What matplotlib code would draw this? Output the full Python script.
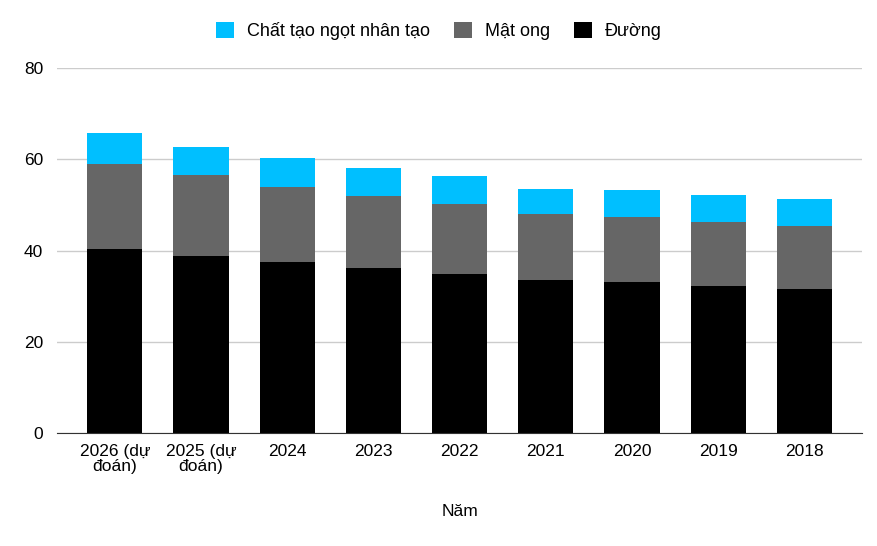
import matplotlib.pyplot as plt
import numpy as np

plt.rcParams['font.family'] = ['Liberation Sans', 'DejaVu Sans']

# data
years = ['2026 (dự\nđoán)', '2025 (dự\nđoán)', '2024', '2023', '2022', '2021', '2020', '2019', '2018']
sugar = [40.4, 38.9, 37.5, 36.2, 34.9, 33.6, 33.1, 32.3, 31.7]
honey = [18.5, 17.7, 16.5, 15.8, 15.4, 14.4, 14.3, 14.0, 13.8]
artificial = [6.8, 6.2, 6.2, 6.2, 6.0, 5.6, 5.9, 6.0, 5.8]

x = np.arange(len(years))
width = 0.64

fig = plt.figure(figsize=(8.78, 5.46), dpi=100)
ax = fig.add_axes([0.065, 0.2064, 0.917, 0.669])

b1 = ax.bar(x, sugar, width, color='#000000', label='Đường', zorder=3)
b2 = ax.bar(x, honey, width, bottom=sugar, color='#666666', label='Mật ong', zorder=3)
bottom2 = np.array(sugar) + np.array(honey)
b3 = ax.bar(x, artificial, width, bottom=bottom2, color='#00BFFF',
            label='Chất tạo ngọt nhân tạo', zorder=3)

ax.set_ylim(0, 80)
ax.set_yticks([0, 20, 40, 60, 80])
ax.set_xlim(-0.67, len(years) - 1 + 0.67)
ax.set_xticks(x)
ax.set_xticklabels(years, fontsize=12.5, linespacing=0.95)
ax.tick_params(axis='y', labelsize=12.5, length=0, pad=10)
ax.tick_params(axis='x', length=0, pad=8)
ax.yaxis.grid(True, color='#cccccc', linewidth=1, zorder=0)

for s in ['left', 'right', 'top']:
    ax.spines[s].set_visible(False)
ax.spines['bottom'].set_color('#333333')
ax.spines['bottom'].set_zorder(4)

ax.set_xlabel('Năm', fontsize=12.5, labelpad=22)

fig.legend([b3, b2, b1], ['Chất tạo ngọt nhân tạo', 'Mật ong', 'Đường'],
           loc='center', bbox_to_anchor=(0.5, 0.943), ncol=3, frameon=False,
           fontsize=13, handlelength=1.0, handleheight=1.0, handletextpad=0.7,
           columnspacing=1.35)

plt.savefig('out.png', dpi=100)
